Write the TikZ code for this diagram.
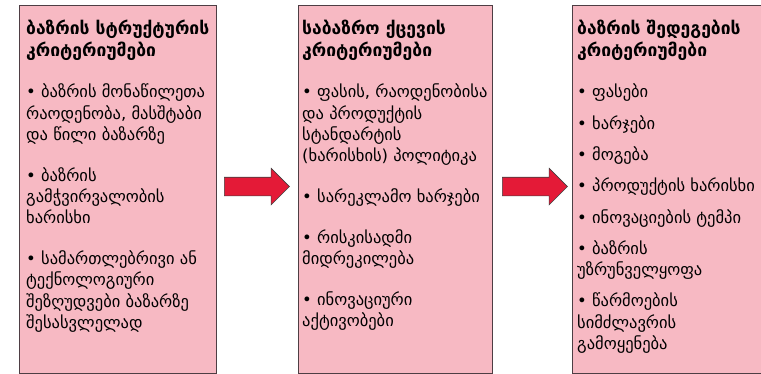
\documentclass[tikz,border=0pt]{standalone}
\usepackage{fontspec}
\setmainfont{DejaVu Sans}
\usetikzlibrary{shapes.arrows,calc}
\definecolor{panelpink}{RGB}{247,185,195}
\definecolor{paneledge}{RGB}{78,62,68}
\definecolor{arrowred}{RGB}{228,26,55}
\newcommand{\panelheight}{368pt}
\newcommand{\titlegap}{20.5pt}
\newcommand{\itemgap}{19.5pt}
\newcommand{\shortgap}{10pt}
\newcommand{\ttlfont}{\fontsize{17.5}{21.3}\selectfont\bfseries}
\newcommand{\ttl}[2]{{\ttlfont #1}\\{\ttlfont #2}}
\tikzset{
    panel/.style={draw=paneledge, fill=panelpink, line width=1.1pt, anchor=north west, minimum height=\panelheight, inner sep=0pt},
    paneltext/.style={anchor=north west, align=left, inner sep=0pt, font=\fontsize{16.5}{21.3}\selectfont},
    bigarrow/.style={single arrow, draw=black!75, fill=arrowred, line width=0.6pt, inner xsep=0pt, inner ysep=9pt,
        minimum height=65pt, minimum width=36pt, single arrow head extend=9pt, anchor=west}
}

\begin{document}
\begin{tikzpicture}[x=1pt, y=-1pt]
    \useasboundingbox (0,0) rectangle (761,374);

    % the three criteria panels
    \node[panel, minimum width=197pt] (structure) at (19,5) {};
    \node[panel, minimum width=194pt] (conduct) at (298,5) {};
    \node[panel, minimum width=192pt] (performance) at (572,5) {};

    \node[paneltext] (structure-text) at (26,20) {%
        \ttl{ბაზრის სტრუქტურის}{კრიტერიუმები}\\[\titlegap]
        • ბაზრის მონაწილეთა\\რაოდენობა, მასშტაბი\\და წილი ბაზარზე\\[\itemgap]
        • ბაზრის\\გამჭვირვალობის\\ხარისხი\\[\itemgap]
        • სამართლებრივი ან\\ტექნოლოგიური\\შეზღუდვები ბაზარზე\\შესასვლელად};

    \node[paneltext] (conduct-text) at (302,20) {%
        \ttl{საბაზრო ქცევის}{კრიტერიუმები}\\[\titlegap]
        • ფასის, რაოდენობისა\\და პროდუქტის\\სტანდარტის\\(ხარისხის) პოლიტიკა\\[\itemgap]
        • სარეკლამო ხარჯები\\[\itemgap]
        • რისკისადმი\\მიდრეკილება\\[\itemgap]
        • ინოვაციური\\აქტივობები};

    \node[paneltext] (performance-text) at (577,20) {%
        \ttl{ბაზრის შედეგების}{კრიტერიუმები}\\[\titlegap]
        • ფასები\\[\shortgap]
        • ხარჯები\\[\shortgap]
        • მოგება\\[\shortgap]
        • პროდუქტის ხარისხი\\[\shortgap]
        • ინოვაციების ტემპი\\[\shortgap]
        • ბაზრის\\უზრუნველყოფა\\[\shortgap]
        • წარმოების\\სიმძლავრის\\გამოყენება};

    % arrows between panels
    \node[bigarrow] (arrow-a) at ($(structure.east)+(7,-3)$) {};
    \node[bigarrow] (arrow-b) at ($(conduct.east)+(9,-3)$) {};
\end{tikzpicture}
\end{document}
